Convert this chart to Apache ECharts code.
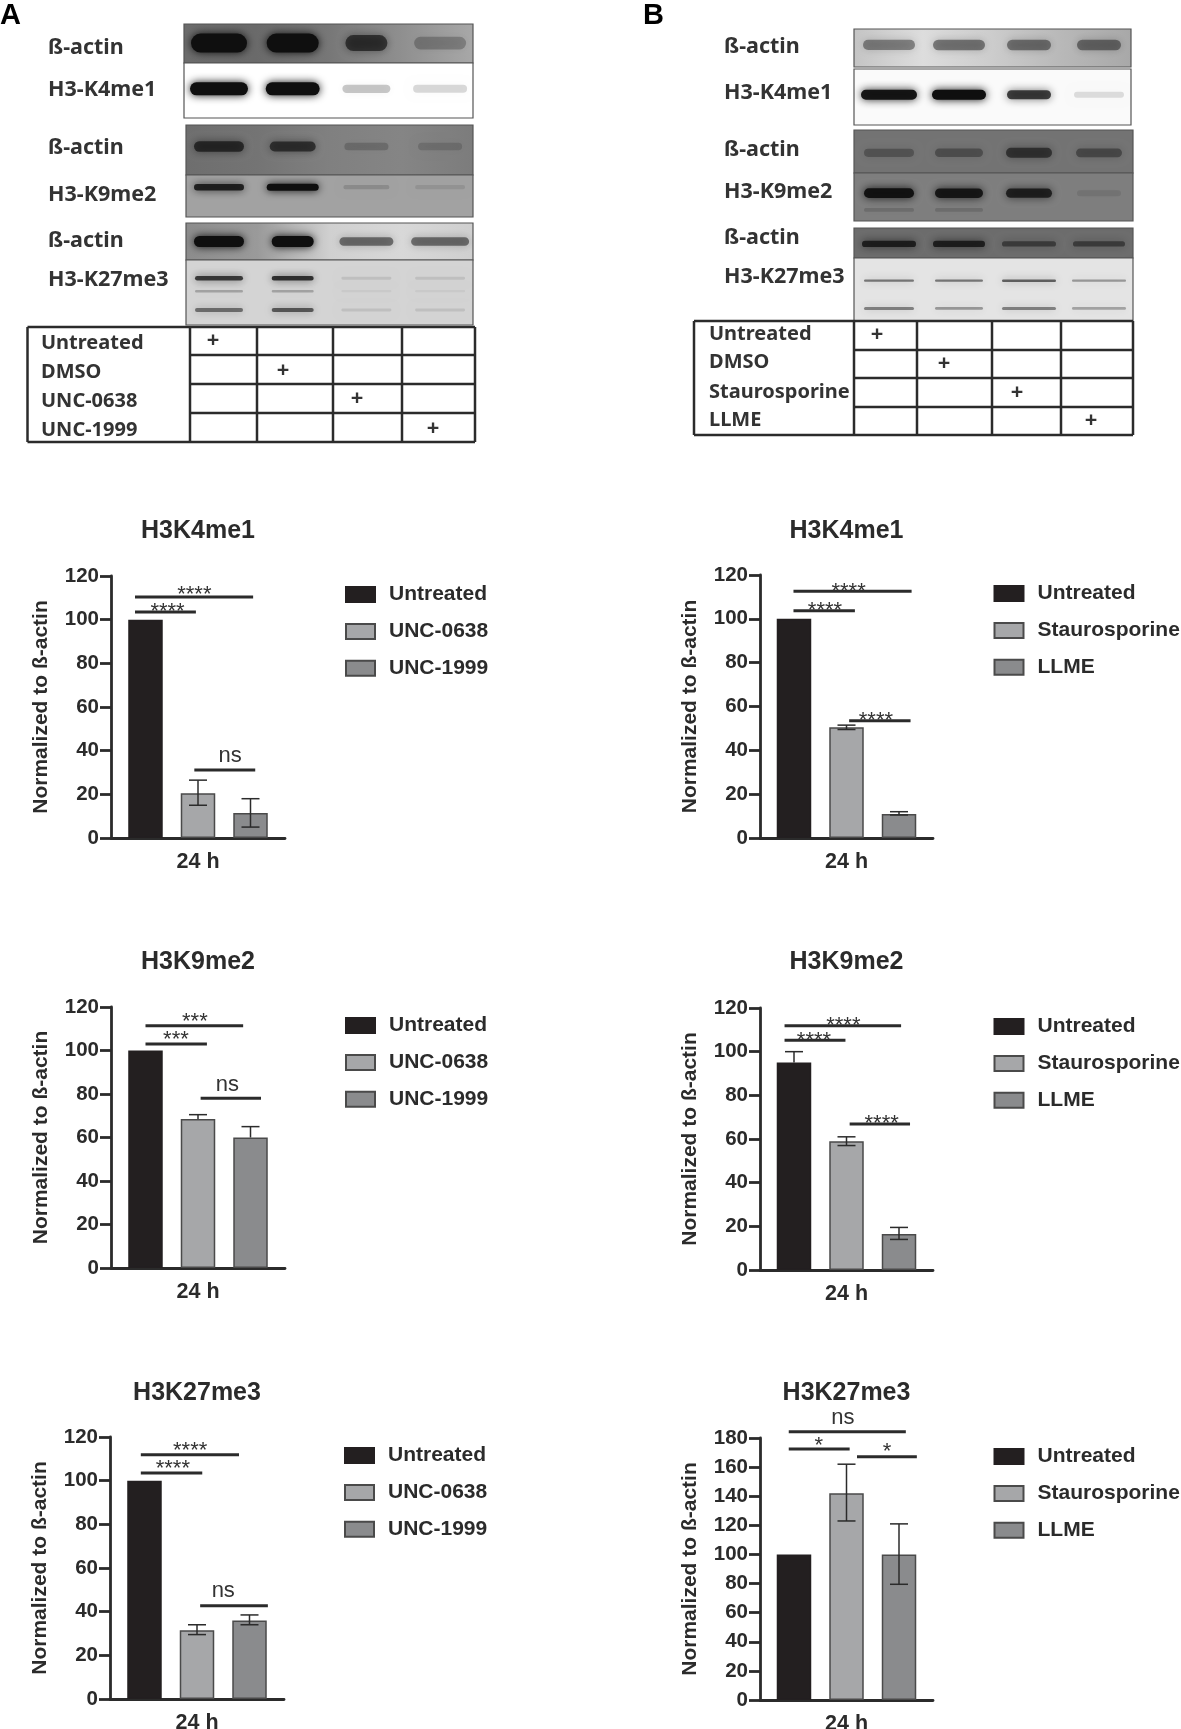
<!DOCTYPE html>
<html>
<head>
<meta charset="utf-8">
<title>Histone methylation blots</title>
<script src="https://cdn.jsdelivr.net/npm/echarts@6/dist/echarts.min.js"></script>
<style>
  html, body { margin: 0; padding: 0; background: #fff; }
  #chart { width: 1181px; height: 1729px; }
</style>
</head>
<body>
<div id="chart"></div>
<script>
// --- data ---
const treatmentsA = ["Untreated", "UNC-0638", "UNC-1999"];
const treatmentsB = ["Untreated", "Staurosporine", "LLME"];
const timeLabels = ["24 h"];

const valuesA_K4 = [100, 20.5, 11.5];
const lowA_K4 = [null, 15, 5];
const highA_K4 = [null, 26.5, 18];
const valuesA_K9 = [100, 68.5, 60];
const lowA_K9 = [null, null, null];
const highA_K9 = [null, 70.5, 65];
const valuesA_K27 = [100, 31.5, 36];
const lowA_K27 = [null, 29.5, 34];
const highA_K27 = [null, 34, 38.5];

const valuesB_K4 = [100, 50.5, 11];
const lowB_K4 = [null, 49.5, 10.5];
const highB_K4 = [null, 51.5, 12];
const valuesB_K9 = [95, 59, 16.5];
const lowB_K9 = [null, 57, 14];
const highB_K9 = [100, 61, 19.5];
const valuesB_K27 = [100, 142, 100];
const lowB_K27 = [null, 123, 79.5];
const highB_K27 = [null, 162, 121];

// significance lines: [from bar, to bar, height, label, label bar, label height]
const sigA_K4 = [[0.8, 1.96, 103.5, "****", 1.42, 105.7], [0.8, 3.05, 110.4, "****", 1.93, 113.6], [1.93, 3.09, 31.1, "ns", 2.61, 37.6]];
const sigA_K9 = [[1.0, 2.17, 103, "***", 1.58, 106.7], [1.0, 2.86, 111.4, "***", 1.94, 115.3], [2.05, 3.2, 78, "ns", 2.56, 84.1]];
const sigA_K27 = [[0.93, 2.1, 103.5, "****", 1.54, 107.3], [0.93, 2.8, 111.9, "****", 1.87, 115.7], [2.06, 3.35, 42.7, "ns", 2.5, 49.3]];
const sigB_K4 = [[0.99, 2.16, 103.7, "****", 1.59, 105.5], [0.99, 3.24, 112.6, "****", 2.04, 114.2], [2.05, 3.22, 53.5, "****", 2.56, 55.3]];
const sigB_K9 = [[0.82, 1.98, 105.2, "****", 1.38, 106.9], [0.82, 3.04, 111.9, "****", 1.94, 113.7], [2.06, 3.21, 66.9, "****", 2.67, 68.8]];
const sigB_K27 = [[0.9, 3.13, 184.3, "ns", 1.93, 194], [0.9, 2.06, 172.4, "*", 1.47, 177.4], [2.2, 3.34, 167.2, "*", 2.77, 173.3]];

// band strength per lane, 0..1
const actinA1 = [1, 1, 0.65, 0.25];
const k4A = [1, 1, 0.22, 0.15];
const actinA2 = [0.7, 0.65, 0.2, 0.17];
const k9A = [0.85, 1, 0.15, 0.1];
const actinA3 = [1, 1, 0.5, 0.5];
const k27A1 = [0.75, 0.8, 0.1, 0.1];
const k27A2 = [0.25, 0.25, 0.05, 0.05];
const k27A3 = [0.5, 0.6, 0.1, 0.1];
const actinB1 = [0.4, 0.45, 0.45, 0.45];
const k4B = [0.95, 1, 0.75, 0.12];
const actinB2 = [0.3, 0.35, 0.6, 0.4];
const k9B1 = [0.95, 0.9, 0.8, 0.1];
const k9B2 = [0.15, 0.15, 0, 0];
const actinB3 = [0.8, 0.8, 0.5, 0.5];
const k27B1 = [0.5, 0.5, 0.6, 0.35];
const k27B2 = [0.45, 0.35, 0.45, 0.3];

const conditionsA = ["Untreated", "DMSO", "UNC-0638", "UNC-1999"];
const conditionsB = ["Untreated", "DMSO", "Staurosporine", "LLME"];
const blotLabelsA = ["ß-actin", "H3-K4me1", "ß-actin", "H3-K9me2", "ß-actin", "H3-K27me3"];
const blotLabelsB = ["ß-actin", "H3-K4me1", "ß-actin", "H3-K9me2", "ß-actin", "H3-K27me3"];

// --- styles and layout ---
const INK = "#2b2b2b";
const SANS = "'Liberation Sans', Arial, sans-serif";
const BLOT_FONT = "'Noto Sans', sans-serif";
const BAR_FILL = ["#231f20", "#a6a7a9", "#8a8b8d"];
const BAR_EDGE = ["#231f20", "#4a4a4a", "#4a4a4a"];

const barCharts = [
  { title: "H3K4me1", names: treatmentsA, v: valuesA_K4, lo: lowA_K4, hi: highA_K4, sig: sigA_K4, max: 120, l: 111, r: 285, t: 576, b: 838, legendX: 345, legendY: 586 },
  { title: "H3K9me2", names: treatmentsA, v: valuesA_K9, lo: lowA_K9, hi: highA_K9, sig: sigA_K9, max: 120, l: 111, r: 285, t: 1007, b: 1268, legendX: 345, legendY: 1017 },
  { title: "H3K27me3", names: treatmentsA, v: valuesA_K27, lo: lowA_K27, hi: highA_K27, sig: sigA_K27, max: 120, l: 110, r: 284, t: 1437, b: 1699, legendX: 344, legendY: 1447 },
  { title: "H3K4me1", names: treatmentsB, v: valuesB_K4, lo: lowB_K4, hi: highB_K4, sig: sigB_K4, max: 120, l: 760, r: 933, t: 575, b: 838, legendX: 993.5, legendY: 585 },
  { title: "H3K9me2", names: treatmentsB, v: valuesB_K9, lo: lowB_K9, hi: highB_K9, sig: sigB_K9, max: 120, l: 760, r: 933, t: 1008, b: 1270, legendX: 993.5, legendY: 1018 },
  { title: "H3K27me3", names: treatmentsB, v: valuesB_K27, lo: lowB_K27, hi: highB_K27, sig: sigB_K27, max: 180, l: 760, r: 933, t: 1438, b: 1700, legendX: 993.5, legendY: 1448 },
];
const titleY = [533, 964, 1395];
const PITCH = 52.5, BAR_W = 34.5;

const hGrad = (stops) => new echarts.graphic.LinearGradient(0, 0, 1, 0,
  stops.map((c, i) => ({ offset: i / (stops.length - 1), color: c })));

// x0 is the pixel of the first lane, laneStep the lane spacing, w the band width per lane
const blotPanels = [
  { l: 184, r: 473, t: 24, b: 63, x0: 219, laneStep: 73.7, w: [50, 46, 36, 46], bg: hGrad(["#6c6c6c", "#6a6a6a", "#777", "#8f8f8f", "#a8a8a8"]), rows: [{ y: 0.49, h: 19, d: actinA1 }] },
  { l: 184, r: 473, t: 63, b: 118, x0: 219, laneStep: 73.7, w: [52, 48, 42, 48], bg: "#fff", rows: [{ y: 0.47, h: 13, d: k4A }] },
  { l: 186, r: 473, t: 125, b: 175, x0: 219, laneStep: 73.7, w: [44, 40, 38, 38], bg: hGrad(["#6e6e6e", "#747474", "#808080", "#858585", "#7c7c7c"]), rows: [{ y: 0.43, h: 12, d: actinA2 }] },
  { l: 186, r: 473, t: 175, b: 217, x0: 219, laneStep: 73.7, w: [44, 46, 40, 44], bg: "#a2a2a2", rows: [{ y: 0.29, h: 7, d: k9A }] },
  { l: 186, r: 473, t: 223, b: 260, x0: 219, laneStep: 73.7, w: [44, 36, 48, 52], bg: hGrad(["#8c8c8c", "#9a9a9a", "#d0d0d0", "#d8d8d8", "#cfcfcf"]), rows: [{ y: 0.5, h: 11, d: actinA3 }] },
  { l: 186, r: 473, t: 260, b: 325, x0: 219, laneStep: 73.7, w: [42, 36, 44, 44], bg: "#d4d4d4", rows: [{ y: 0.28, h: 5, d: k27A1 }, { y: 0.48, h: 4, d: k27A2 }, { y: 0.77, h: 5, d: k27A3 }] },
  { l: 854, r: 1131, t: 29, b: 67, x0: 889, laneStep: 70, w: [46, 46, 38, 38], bg: hGrad(["#c4c4c4", "#dddddd", "#cccccc", "#b8b8b8", "#a8a8a8"]), rows: [{ y: 0.42, h: 14, d: actinB1 }] },
  { l: 854, r: 1131, t: 69, b: 125, x0: 889, laneStep: 70, w: [50, 48, 38, 44], bg: "#fafafa", rows: [{ y: 0.46, h: 10, d: k4B }] },
  { l: 854, r: 1133, t: 130, b: 173, x0: 889, laneStep: 70, w: [44, 42, 40, 40], bg: "#737373", rows: [{ y: 0.53, h: 12, d: actinB2 }] },
  { l: 854, r: 1133, t: 173, b: 221, x0: 889, laneStep: 70, w: [44, 42, 40, 38], bg: "#7e7e7e", rows: [{ y: 0.42, h: 10, d: k9B1 }, { y: 0.77, h: 6, d: k9B2 }] },
  { l: 854, r: 1133, t: 228, b: 258, x0: 889, laneStep: 70, w: [48, 46, 48, 46], bg: "#6c6c6c", rows: [{ y: 0.53, h: 7, d: actinB3 }] },
  { l: 854, r: 1133, t: 258, b: 321, x0: 889, laneStep: 70, w: [44, 42, 48, 48], bg: "#e4e4e4", rows: [{ y: 0.36, h: 3, d: k27B1 }, { y: 0.8, h: 4, d: k27B2 }] },
];

const tables = [
  { left: 27.5, cols: [190, 257, 333, 402, 475], rows: [327, 355, 384, 413, 442], textX: 41, textY: [343, 372, 401, 430], plusX: [213, 283, 357, 433], plusY: [341, 371, 399, 429], labels: conditionsA },
  { left: 694, cols: [854, 917, 992, 1061, 1133], rows: [321, 350, 378, 407, 435], textX: 709, textY: [334, 362, 392, 420], plusX: [877, 944, 1017, 1091], plusY: [335, 364, 393, 421], labels: conditionsB },
];
const blotLabelSpots = [
  { x: 48, y: [48, 90, 148, 195, 241, 280], labels: blotLabelsA },
  { x: 724, y: [47, 93, 150, 192, 238, 277], labels: blotLabelsB },
];

// --- option building ---
const grid = [], xAxis = [], yAxis = [], series = [], title = [], legend = [], graphic = [];

function addBarChart(c, i) {
  const gi = grid.length;
  // outerBoundsMode none: v6 would otherwise shrink the bottom charts to keep "24 h" on the canvas
  grid.push({ left: c.l, width: c.r - c.l, top: c.t, height: c.b - c.t, outerBoundsMode: "none" });
  const mid = (c.l + c.r) / 2, halfUnits = (c.r - c.l) / 2 / PITCH;
  xAxis.push({
    gridIndex: gi, type: "category", data: timeLabels,
    axisLine: { lineStyle: { color: INK, width: 2.8 } }, axisTick: { show: false },
    axisLabel: { color: INK, fontFamily: SANS, fontWeight: "bold", fontSize: 21.5, margin: 13 },
  });
  // hidden x axis in bar units so error bars and significance lines share the bar layout
  xAxis.push({ gridIndex: gi, type: "value", show: false, min: 2 - halfUnits, max: 2 + halfUnits });
  yAxis.push({
    gridIndex: gi, type: "value", min: 0, max: c.max, interval: 20,
    name: "Normalized to ß-actin", nameLocation: "middle", nameGap: 59.5,
    nameTextStyle: { color: INK, fontFamily: SANS, fontWeight: "bold", fontSize: 21 },
    axisLine: { show: true, lineStyle: { color: INK, width: 2.8 } },
    axisTick: { show: true, length: 11, lineStyle: { color: INK, width: 2.8 } },
    axisLabel: { color: INK, fontFamily: SANS, fontWeight: "bold", fontSize: 20.5, margin: 12 },
    splitLine: { show: false },
  });
  const xCat = xAxis.length - 2, xVal = xAxis.length - 1, yi = yAxis.length - 1;

  c.names.forEach((name, k) => {
    series.push({
      name, type: "bar", xAxisIndex: xCat, yAxisIndex: yi, data: [c.v[k]],
      barWidth: BAR_W, barGap: ((PITCH - BAR_W) / BAR_W * 100).toFixed(1) + "%",
      itemStyle: { color: BAR_FILL[k], borderColor: BAR_EDGE[k], borderWidth: 1.5 },
      silent: true,
    });
  });

  // error bars
  series.push({
    type: "custom", xAxisIndex: xVal, yAxisIndex: yi, silent: true, z: 5,
    data: c.v.map((v, k) => [k + 1, c.lo[k] == null ? v : c.lo[k], c.hi[k] == null ? v : c.hi[k], v]),
    renderItem: (params, api) => {
      const x = api.value(0), low = api.value(1), high = api.value(2), val = api.value(3);
      const top = api.coord([x, high]), bot = api.coord([x, low]);
      const style = { stroke: "#2b2b2b", lineWidth: 1.5, fill: "none" };
      const kids = [];
      if (high !== low) kids.push({ type: "line", shape: { x1: top[0], y1: top[1], x2: bot[0], y2: bot[1] }, style });
      if (high !== val) kids.push({ type: "line", shape: { x1: top[0] - 9, y1: top[1], x2: top[0] + 9, y2: top[1] }, style });
      if (low !== val) kids.push({ type: "line", shape: { x1: bot[0] - 9, y1: bot[1], x2: bot[0] + 9, y2: bot[1] }, style });
      return { type: "group", children: kids };
    },
  });

  // significance lines and labels
  series.push({
    type: "custom", xAxisIndex: xVal, yAxisIndex: yi, silent: true, z: 6,
    data: c.sig.map((s) => [s[0], s[2], s[1], s[4], s[5]]),
    renderItem: (params, api) => {
      const s = c.sig[params.dataIndex];
      const a = api.coord([s[0], s[2]]), b = api.coord([s[1], s[2]]), lab = api.coord([s[4], s[5]]);
      const isNs = s[3] === "ns";
      return {
        type: "group",
        children: [
          { type: "line", shape: { x1: a[0], y1: a[1], x2: b[0], y2: b[1] }, style: { stroke: "#2b2b2b", lineWidth: 3 } },
          // the asterisk glyph sits high in its em box, so nudge it down onto the read position
          { type: "text", style: { text: s[3], x: lab[0], y: lab[1] + (isNs ? 0 : 4.5), fill: "#333", textAlign: "center", textVerticalAlign: "middle", font: "22px " + SANS } },
        ],
      };
    },
  });

  title.push({
    text: c.title, left: mid, top: titleY[i % 3] - 14, textAlign: "center", padding: 0,
    textStyle: { color: INK, fontFamily: SANS, fontWeight: "bold", fontSize: 25 },
  });

  legend.push({
    orient: "vertical", left: c.legendX, top: c.legendY - 2, padding: 0, icon: "rect",
    data: c.names, selectedMode: false, itemWidth: 29, itemHeight: 15, itemGap: 15.9,
    textStyle: { color: INK, fontFamily: SANS, fontWeight: "bold", fontSize: 21, padding: [0, 0, 0, 9] },
  });
}

function addBlot(p) {
  const gi = grid.length;
  grid.push({
    show: true, left: p.l, width: p.r - p.l, top: p.t, height: p.b - p.t, outerBoundsMode: "none",
    backgroundColor: p.bg, borderColor: "#555", borderWidth: 1.2,
  });
  xAxis.push({
    gridIndex: gi, type: "value", show: false,
    min: 1 - (p.x0 - p.l) / p.laneStep, max: 1 + (p.r - p.x0) / p.laneStep,
  });
  yAxis.push({ gridIndex: gi, type: "value", show: false, inverse: true, min: 0, max: 1 });
  const xi = xAxis.length - 1, yi = yAxis.length - 1;
  const rows = [];
  p.rows.forEach((r) => r.d.forEach((strength, lane) => rows.push([lane + 1, r.y, strength, r.h, p.w[lane]])));
  const clip = { x: p.l, y: p.t, width: p.r - p.l, height: p.b - p.t };
  series.push({
    type: "custom", xAxisIndex: xi, yAxisIndex: yi, silent: true, data: rows,
    renderItem: (params, api) => {
      const c = api.coord([api.value(0), api.value(1)]);
      const a = api.value(2), w = api.value(4) + 6; // the rounded ends lose a few pixels
      if (!a) return null;
      // faint bands read thinner as well as lighter
      const h = api.value(3) * (0.55 + 0.45 * a);
      const col = "rgba(15,15,15," + a + ")";
      return {
        type: "rect", shape: { x: c[0] - w / 2, y: c[1] - h / 2, width: w, height: h, r: h / 2 },
        style: { fill: col, shadowColor: col, shadowBlur: 9 },
        clipPath: { type: "rect", shape: clip },
      };
    },
  });
}

function hLine(x1, x2, y) {
  return { type: "line", shape: { x1, y1: y, x2, y2: y }, style: { stroke: "#2b2b2b", lineWidth: 2.5 } };
}
function vLine(x, y1, y2) {
  return { type: "line", shape: { x1: x, y1, x2: x, y2 }, style: { stroke: "#2b2b2b", lineWidth: 2.5 } };
}
function label(text, x, y, size, font, align, color) {
  return { type: "text", x, y, style: { text, fill: color || "#333", font: "bold " + size + "px " + font, textAlign: align || "left", textVerticalAlign: "middle" } };
}

tables.forEach((t) => {
  const bottom = t.rows[t.rows.length - 1], right = t.cols[t.cols.length - 1];
  t.rows.forEach((y, i) => graphic.push(hLine(i === 0 || i === t.rows.length - 1 ? t.left : t.cols[0], right, y)));
  graphic.push(vLine(t.left, t.rows[0], bottom));
  t.cols.forEach((x) => graphic.push(vLine(x, t.rows[0], bottom)));
  t.labels.forEach((text, i) => {
    graphic.push(label(text, t.textX, t.textY[i], 20, BLOT_FONT));
    graphic.push(label("+", t.plusX[i], t.plusY[i], 22, BLOT_FONT, "center"));
  });
});
blotLabelSpots.forEach((s) => s.labels.forEach((text, i) => graphic.push(label(text, s.x, s.y[i], 21.5, BLOT_FONT))));
graphic.push(label("A", 0, 16, 29, SANS, "left", "#000"));
graphic.push(label("B", 643, 16, 29, SANS, "left", "#000"));

blotPanels.forEach(addBlot);
barCharts.forEach(addBarChart);

const chart = echarts.init(document.getElementById("chart"), null, { renderer: "canvas" });
chart.setOption({ animation: false, backgroundColor: "#fff", title, legend, grid, xAxis, yAxis, series, graphic });
</script>
</body>
</html>
